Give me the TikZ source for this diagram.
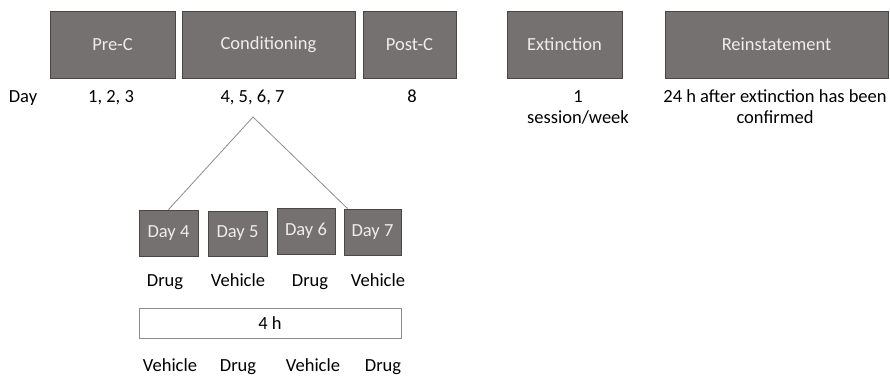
\documentclass[tikz,border=0pt]{standalone}
\usepackage{fontspec}
\setmainfont{Carlito}
\usetikzlibrary{calc}
\definecolor{boxgray}{HTML}{767171}
\definecolor{boxedge}{HTML}{4A4646}
\definecolor{boxtext}{HTML}{EDEDED}
\definecolor{linegray}{HTML}{8C8C8C}
\begin{document}
\begin{tikzpicture}[x=1pt,y=-1pt,
  phase/.style={draw=boxedge,line width=0.9pt,fill=boxgray,text=boxtext,inner sep=0pt,
    font=\fontsize{18.5}{21}\selectfont},
  lbl/.style={inner sep=0pt,text=black,font=\fontsize{18.5}{21}\selectfont,align=center},
  conn/.style={draw=linegray,line width=0.8pt}]
\useasboundingbox (0,0) rectangle (890,377);
% top phases
\node[phase,minimum width=125pt,minimum height=67pt] (prec) at (112.5,44.5) {Pre-C};
\node[phase,minimum width=173pt,minimum height=67pt] (cond) at (268.5,44.5) {Conditioning};
\node[phase,minimum width=93pt,minimum height=67pt] (postc) at (409.5,44.5) {Post-C};
\node[phase,minimum width=115pt,minimum height=67pt] (ext) at (564.5,44.5) {Extinction};
\node[phase,minimum width=223pt,minimum height=67pt] (rein) at (776.5,44.5) {Reinstatement};
% day labels
\node[lbl,anchor=base] (day) at (23,102.5) {Day};
\node[lbl,anchor=base] (d123) at (111,102.5) {1, 2, 3};
\node[lbl,anchor=base] (d4567) at (252.5,102.5) {4, 5, 6, 7};
\node[lbl,anchor=base] (d8) at (412,102.5) {8};
\node[lbl,anchor=base] (ses) at (578,124) {1\\session/week};
\node[lbl,anchor=base] (hrs) at (775,124) {24 h after extinction has been\\confirmed};
% conditioning days
\node[phase,minimum width=59pt,minimum height=46pt] (dd4) at (168.5,233) {Day 4};
\node[phase,minimum width=59pt,minimum height=45pt] (dd5) at (237.5,233.5) {Day 5};
\node[phase,minimum width=58pt,minimum height=46pt] (dd6) at (306,231) {Day 6};
\node[phase,minimum width=57pt,minimum height=46pt] (dd7) at (372.5,232) {Day 7};
\coordinate (apex) at (253,117);
\draw[conn] (dd4.north) -- (apex) -- ([xshift=4pt]dd7.north west);
% treatments
\node[lbl,anchor=base] (t4) at (165,286.5) {Drug};
\node[lbl,anchor=base] (t5) at (238,286.5) {Vehicle};
\node[lbl,anchor=base] (t6) at (310,286.5) {Drug};
\node[lbl,anchor=base] (t7) at (378,286.5) {Vehicle};
% 4 h bar
\node[draw=linegray,line width=0.9pt,fill=white,minimum width=262pt,minimum height=30pt,
  inner sep=0pt,font=\fontsize{18.5}{21}\selectfont] (four) at (270,323) {4 h};
% bottom treatments
\node[lbl,anchor=base] (b4) at (170,371.5) {Vehicle};
\node[lbl,anchor=base] (b5) at (238,371.5) {Drug};
\node[lbl,anchor=base] (b6) at (313,371.5) {Vehicle};
\node[lbl,anchor=base] (b7) at (383,371.5) {Drug};
\end{tikzpicture}
\end{document}
